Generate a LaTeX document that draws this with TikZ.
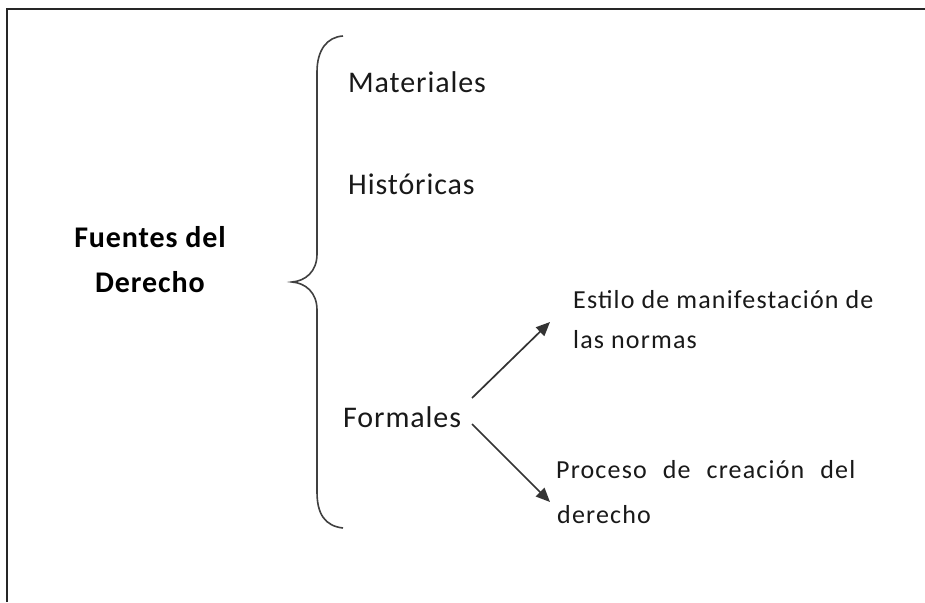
\documentclass[tikz,border=0pt]{standalone}
\usepackage{fontspec}
\setmainfont{Carlito}[LetterSpace=3]
\usetikzlibrary{arrows.meta}
\begin{document}
\begin{tikzpicture}[x=1pt,y=-1pt,
  bigtxt/.style={inner sep=0pt,anchor=base west,font=\fontsize{30}{40}\selectfont,text=black!90},
  boldtxt/.style={inner sep=0pt,anchor=base,font=\fontsize{30}{40}\selectfont\bfseries,text=black},
  smalltxt/.style={inner sep=0pt,anchor=base west,font=\fontsize{26}{40}\selectfont\addfontfeatures{LetterSpace=4.5},text=black!90},
  frameline/.style={line width=2pt,draw=black!85},
  braceline/.style={line width=1.6pt,draw=black!75},
  arrowline/.style={line width=1.7pt,draw=black!80,-{Triangle[length=14pt,width=12pt]}}]
\useasboundingbox (0,0) rectangle (925,602);
\fill[white] (0,0) rectangle (925,602);
% frame (cropped at right and bottom)
\draw[frameline] (7,602) -- (7,9) -- (925,9);
% texts
\node[boldtxt] (fu) at (150,247) {Fuentes del};
\node[boldtxt] (de) at (150,292) {Derecho};
\node[bigtxt] (mat) at (348,92) {Materiales};
\node[bigtxt] (his) at (348,194) {Históricas};
\node[bigtxt] (form) at (343,427) {Formales};
\node[smalltxt] (est) at (573,308) {Estilo de manifestación de};
\node[smalltxt] (las) at (573,348) {las normas};
\node[smalltxt] (pro) at (556,478) {\makebox[299pt][s]{Proceso de creación del}};
\node[smalltxt] (der) at (557,523) {derecho};
% brace
\draw[braceline] (343,36) .. controls (327,37) and (317,50) .. (317,72)
  -- (317,254) .. controls (317,272) and (305,281) .. (292,282)
  .. controls (305,283) and (317,292) .. (317,310)
  -- (317,492) .. controls (317,514) and (325,526) .. (343,528);
% arrows
\coordinate (u0) at (472,398);
\coordinate (u1) at (550,322);
\coordinate (d0) at (472,424);
\coordinate (d1) at (550,502);
\draw[arrowline] (u0) -- (u1);
\draw[arrowline] (d0) -- (d1);
\end{tikzpicture}
\end{document}
